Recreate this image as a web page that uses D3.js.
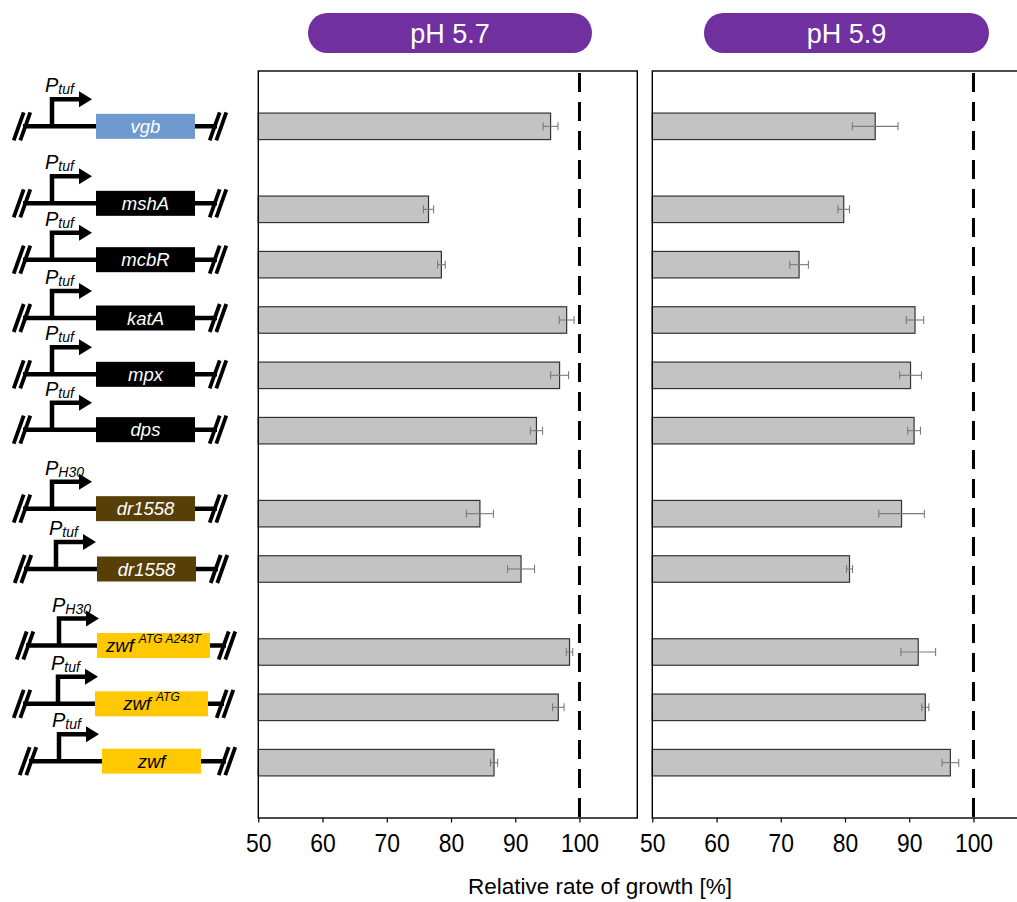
<!DOCTYPE html>
<html>
<head>
<meta charset="utf-8">
<script src="https://cdn.jsdelivr.net/npm/d3@7"></script>
<style>
  html, body { margin: 0; padding: 0; background: #fff; }
  svg { display: block; font-family: "Liberation Sans", Arial, sans-serif; }
</style>
</head>
<body>
<svg id="chart" width="1017" height="902"></svg>
<script>
// ---- data ----
const genes = ["vgb", "mshA", "mcbR", "katA", "mpx", "dps", "dr1558", "dr1558", "zwf", "zwf", "zwf"];
const geneSuperscripts = ["", "", "", "", "", "", "", "", "ATG A243T", "ATG", ""];
const promoters = ["tuf", "tuf", "tuf", "tuf", "tuf", "tuf", "H30", "tuf", "H30", "tuf", "tuf"];
// vertical slot of each construct (half-slot gaps separate the groups)
const rowSlots = [0, 1.5, 2.5, 3.5, 4.5, 5.5, 7, 8, 9.5, 10.5, 11.5];
const ph57Values = [95.5, 76.5, 78.5, 98.0, 96.9, 93.3, 84.5, 90.9, 98.45, 96.7, 86.7];
const ph57Errors = [1.15, 0.8, 0.6, 1.15, 1.4, 0.95, 2.1, 2.1, 0.5, 0.9, 0.55];
const ph59Values = [84.7, 79.8, 72.85, 90.9, 90.2, 90.75, 88.8, 80.7, 91.4, 92.5, 96.4];
const ph59Errors = [3.55, 0.9, 1.45, 1.35, 1.7, 1.0, 3.55, 0.47, 2.7, 0.55, 1.3];
const panelTitles = ["pH 5.7", "pH 5.9"];
const xTicks = [50, 60, 70, 80, 90, 100];
const referenceLine = 100;
const axisTitle = "Relative rate of growth [%]";

// ---- styling / layout ----
const geneColors = ["#7099cf", "#000", "#000", "#000", "#000", "#000", "#583f07", "#583f07", "#ffc800", "#ffc800", "#ffc800"];
const geneTextColors = ["#fff", "#fff", "#fff", "#fff", "#fff", "#fff", "#fff", "#fff", "#000", "#000", "#000"];
// construct drawing geometry: backbone ends, promoter position, gene box, vertical nudge
const diagramLayout = [
  { x0: 27, x1: 213, px: 52, b0: 96, b1: 195, dy: 0 },
  { x0: 27, x1: 213, px: 52, b0: 96, b1: 195, dy: -6 },
  { x0: 27, x1: 213, px: 52, b0: 96, b1: 195, dy: -5 },
  { x0: 27, x1: 213, px: 52, b0: 96, b1: 195, dy: -2 },
  { x0: 27, x1: 213, px: 52, b0: 96, b1: 195, dy: -1 },
  { x0: 27, x1: 213, px: 52, b0: 96, b1: 195, dy: -1 },
  { x0: 27, x1: 213, px: 52, b0: 96, b1: 195, dy: -5 },
  { x0: 28, x1: 214, px: 56, b0: 97, b1: 196, dy: 0 },
  { x0: 30, x1: 222, px: 59, b0: 97, b1: 210, dy: -6.5 },
  { x0: 27, x1: 220, px: 58, b0: 95, b1: 208, dy: -3.5 },
  { x0: 33, x1: 222, px: 59, b0: 102, b1: 201, dy: -1.5 }
];

const svg = d3.select("#chart");
const plotTop = 71, plotBottom = 818;
const barH = 26.5;

const y = d3.scaleLinear().domain([-1, 12.5]).range([plotTop, plotBottom]);

const panels = [
  { title: panelTitles[0], values: ph57Values, errors: ph57Errors, x: d3.scaleLinear().domain([50, 109]).range([258.3, 637.3]), pill: [308, 592] },
  { title: panelTitles[1], values: ph59Values, errors: ph59Errors, x: d3.scaleLinear().domain([50, 109]).range([652.3, 1031.3]), pill: [704, 989] }
];

panels.forEach(p => {
  const g = svg.append("g");
  const [r0, r1] = p.x.range();

  // header pill
  g.append("rect")
    .attr("x", p.pill[0]).attr("y", 13)
    .attr("width", p.pill[1] - p.pill[0]).attr("height", 40)
    .attr("rx", 19).attr("ry", 20)
    .attr("fill", "#7030a0");
  g.append("text")
    .attr("x", (p.pill[0] + p.pill[1]) / 2).attr("y", 43)
    .attr("text-anchor", "middle")
    .attr("font-size", 27).attr("fill", "#fff")
    .text(p.title);

  // reference line at 100 %
  g.append("line")
    .attr("x1", p.x(referenceLine)).attr("x2", p.x(referenceLine))
    .attr("y1", plotTop + 2).attr("y2", plotBottom)
    .attr("stroke", "#000").attr("stroke-width", 3)
    .attr("stroke-dasharray", "19,10");

  // bars
  g.selectAll("rect.bar").data(p.values).join("rect")
    .attr("class", "bar")
    .attr("x", p.x(50))
    .attr("y", (d, i) => y(rowSlots[i]) - barH / 2)
    .attr("width", d => p.x(d) - p.x(50))
    .attr("height", barH)
    .attr("fill", "#c3c3c3")
    .attr("stroke", "#333").attr("stroke-width", 1.2);

  // error bars
  const eb = g.selectAll("g.err").data(p.values).join("g").attr("class", "err")
    .attr("stroke", "#7a7a7a").attr("stroke-width", 1.1);
  eb.append("line")
    .attr("x1", (d, i) => p.x(d - p.errors[i])).attr("x2", (d, i) => p.x(d + p.errors[i]))
    .attr("y1", (d, i) => y(rowSlots[i])).attr("y2", (d, i) => y(rowSlots[i]));
  [-1, 1].forEach(s => {
    eb.append("line")
      .attr("x1", (d, i) => p.x(d + s * p.errors[i])).attr("x2", (d, i) => p.x(d + s * p.errors[i]))
      .attr("y1", (d, i) => y(rowSlots[i]) - 4).attr("y2", (d, i) => y(rowSlots[i]) + 4);
  });

  // frame
  g.append("rect")
    .attr("x", r0).attr("y", plotTop)
    .attr("width", r1 - r0).attr("height", plotBottom - plotTop)
    .attr("fill", "none").attr("stroke", "#000").attr("stroke-width", 1.4);

  // bottom axis
  const ax = g.append("g")
    .attr("transform", `translate(0,${plotBottom})`)
    .call(d3.axisBottom(p.x).tickValues(xTicks).tickSize(4.5).tickSizeOuter(0));
  ax.select(".domain").remove();
  ax.selectAll(".tick line").attr("stroke", "#000").attr("stroke-width", 1.2);
  ax.selectAll(".tick text")
    .attr("y", 34).attr("dy", 0)
    .attr("font-size", 26).attr("fill", "#000")
    .attr("font-family", "Liberation Sans, Arial, sans-serif")
    .attr("transform", "scale(0.88,1)");
});

// axis title
svg.append("text")
  .attr("x", 600).attr("y", 894)
  .attr("text-anchor", "middle")
  .attr("font-size", 22.5)
  .text(axisTitle);

// ---- construct diagrams ----
const dg = svg.append("g");
genes.forEach((gene, i) => {
  const L = diagramLayout[i];
  const cy = y(rowSlots[i]) + L.dy;
  const g = dg.append("g");

  // backbone
  g.append("line")
    .attr("x1", L.x0 - 4).attr("x2", L.x1 + 4)
    .attr("y1", cy).attr("y2", cy)
    .attr("stroke", "#000").attr("stroke-width", 4.5);

  // break marks "//" at both ends
  [L.x0 - 5, L.x1 + 5].forEach(cx => {
    [-3.3, 3.3].forEach(off => {
      g.append("line")
        .attr("x1", cx + off - 5).attr("y1", cy + 14)
        .attr("x2", cx + off + 5).attr("y2", cy - 14)
        .attr("stroke", "#000").attr("stroke-width", 3.8);
    });
  });

  // promoter arrow
  g.append("path")
    .attr("d", `M${L.px},${cy} V${cy - 27} H${L.px + 28}`)
    .attr("fill", "none").attr("stroke", "#000").attr("stroke-width", 4.5);
  g.append("path")
    .attr("d", `M${L.px + 27},${cy - 35} L${L.px + 40},${cy - 27} L${L.px + 27},${cy - 19} Z`)
    .attr("fill", "#000");

  // promoter label
  const pt = g.append("text")
    .attr("x", L.px - 7).attr("y", cy - 34)
    .attr("font-style", "italic").attr("font-size", 20).attr("fill", "#000");
  pt.append("tspan").text("P");
  pt.append("tspan").attr("font-size", 14).attr("dy", 2).text(promoters[i]);

  // gene box
  g.append("rect")
    .attr("x", L.b0).attr("y", cy - 12.5)
    .attr("width", L.b1 - L.b0).attr("height", 25)
    .attr("fill", geneColors[i]);
  const gt = g.append("text")
    .attr("x", (L.b0 + L.b1) / 2).attr("y", cy + 6.5)
    .attr("text-anchor", "middle")
    .attr("font-style", "italic").attr("font-size", 18.5)
    .attr("fill", geneTextColors[i]);
  gt.append("tspan").text(gene);
  if (geneSuperscripts[i]) {
    gt.append("tspan").attr("font-size", 12).attr("dx", 5).attr("dy", -9).text(geneSuperscripts[i]);
  }
});
</script>
</body>
</html>
